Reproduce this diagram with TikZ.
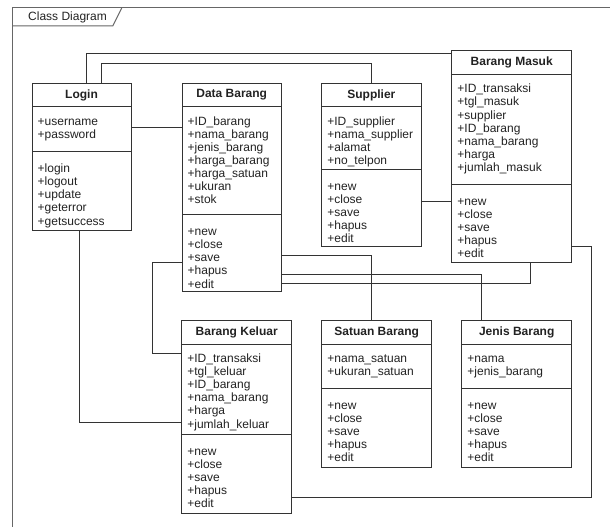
\documentclass[tikz,border=0pt]{standalone}
\usepackage{fontspec}
\setmainfont{Liberation Sans}
\usetikzlibrary{positioning}

\definecolor{linec}{HTML}{333333}
\definecolor{framec}{HTML}{666666}
\definecolor{textc}{HTML}{222222}

\tikzset{
  classhead/.style={draw=linec, line width=1pt, inner sep=0pt, outer sep=0pt,
    anchor=north west, minimum height=23.5pt, text=textc,
    font=\bfseries\fontsize{12}{14}\selectfont},
  compart/.style={draw=linec, line width=1pt, inner sep=0pt, outer sep=0pt},
  members/.style={align=left, inner sep=0pt, text=textc,
    font=\fontsize{12}{13.1}\selectfont},
  assoc/.style={draw=linec, line width=1pt},
}

\begin{document}
\begin{tikzpicture}[x=1pt, y=-1pt]
\clip (0,0) rectangle (610,527);

% frame
\draw[framec, line width=1pt] (12,540) -- (12,8) -- (620,8);
\draw[framec, line width=1pt] (12,26) -- (112.7,26) -- (121.7,8);
\node[anchor=base west, inner sep=0pt, text=textc, font=\fontsize{12}{14}\selectfont] (title) at (28,20.3) {Class Diagram};

% Login
\node[classhead, minimum width=99pt] (login) at (32,83.3) {Login};
\node[compart, minimum width=99pt, minimum height=45pt, below=0pt of login] (login-att) {};
\node[compart, minimum width=99pt, minimum height=78.2pt, below=0pt of login-att] (login-op) {};
\node[members, below right=9pt and 5.5pt of login-att.north west] (login-att-t) {\strut+username\\+password};
\node[members, below right=11.5pt and 5.5pt of login-op.north west] (login-op-t) {\strut+login\\+logout\\+update\\+geterror\\+getsuccess};

% Data Barang
\node[classhead, minimum width=99.5pt] (dbarang) at (182,83.3) {Data Barang};
\node[compart, minimum width=99.5pt, minimum height=108pt, below=0pt of dbarang] (dbarang-att) {};
\node[compart, minimum width=99.5pt, minimum height=76.7pt, below=0pt of dbarang-att] (dbarang-op) {};
\node[members, below right=9pt and 5.5pt of dbarang-att.north west] (dbarang-att-t) {\strut+ID\_barang\\+nama\_barang\\+jenis\_barang\\+harga\_barang\\+harga\_satuan\\+ukuran\\+stok};
\node[members, below right=11.5pt and 5.5pt of dbarang-op.north west] (dbarang-op-t) {\strut+new\\+close\\+save\\+hapus\\+edit};

% Supplier
\node[classhead, minimum width=99.3pt] (supplier) at (321.7,83.3) {Supplier};
\node[compart, minimum width=99.3pt, minimum height=62.6pt, below=0pt of supplier] (supplier-att) {};
\node[compart, minimum width=99.3pt, minimum height=77.4pt, below=0pt of supplier-att] (supplier-op) {};
\node[members, below right=9pt and 5.5pt of supplier-att.north west] (supplier-att-t) {\strut+ID\_supplier\\+nama\_supplier\\+alamat\\+no\_telpon};
\node[members, below right=11.5pt and 5.5pt of supplier-op.north west] (supplier-op-t) {\strut+new\\+close\\+save\\+hapus\\+edit};

% Barang Masuk
\node[classhead, minimum width=120pt] (bmasuk) at (451.7,51) {Barang Masuk};
\node[compart, minimum width=120pt, minimum height=109.7pt, below=0pt of bmasuk] (bmasuk-att) {};
\node[compart, minimum width=120pt, minimum height=78.3pt, below=0pt of bmasuk-att] (bmasuk-op) {};
\node[members, below right=9pt and 5.5pt of bmasuk-att.north west] (bmasuk-att-t) {\strut+ID\_transaksi\\+tgl\_masuk\\+supplier\\+ID\_barang\\+nama\_barang\\+harga\\+jumlah\_masuk};
\node[members, below right=11.5pt and 5.5pt of bmasuk-op.north west] (bmasuk-op-t) {\strut+new\\+close\\+save\\+hapus\\+edit};

% Barang Keluar
\node[classhead, minimum width=110pt] (bkeluar) at (181.7,320.7) {Barang Keluar};
\node[compart, minimum width=110pt, minimum height=90pt, below=0pt of bkeluar] (bkeluar-att) {};
\node[compart, minimum width=110pt, minimum height=79.7pt, below=0pt of bkeluar-att] (bkeluar-op) {};
\node[members, below right=9pt and 5.5pt of bkeluar-att.north west] (bkeluar-att-t) {\strut+ID\_transaksi\\+tgl\_keluar\\+ID\_barang\\+nama\_barang\\+harga\\+jumlah\_keluar};
\node[members, below right=11.5pt and 5.5pt of bkeluar-op.north west] (bkeluar-op-t) {\strut+new\\+close\\+save\\+hapus\\+edit};

% Satuan Barang
\node[classhead, minimum width=110pt] (satuan) at (321.7,320.7) {Satuan Barang};
\node[compart, minimum width=110pt, minimum height=44pt, below=0pt of satuan] (satuan-att) {};
\node[compart, minimum width=110pt, minimum height=79pt, below=0pt of satuan-att] (satuan-op) {};
\node[members, below right=9pt and 5.5pt of satuan-att.north west] (satuan-att-t) {\strut+nama\_satuan\\+ukuran\_satuan};
\node[members, below right=11.5pt and 5.5pt of satuan-op.north west] (satuan-op-t) {\strut+new\\+close\\+save\\+hapus\\+edit};

% Jenis Barang
\node[classhead, minimum width=110pt] (jenis) at (461.7,320.7) {Jenis Barang};
\node[compart, minimum width=110pt, minimum height=44pt, below=0pt of jenis] (jenis-att) {};
\node[compart, minimum width=110pt, minimum height=79pt, below=0pt of jenis-att] (jenis-op) {};
\node[members, below right=9pt and 5.5pt of jenis-att.north west] (jenis-att-t) {\strut+nama\\+jenis\_barang};
\node[members, below right=11.5pt and 5.5pt of jenis-op.north west] (jenis-op-t) {\strut+new\\+close\\+save\\+hapus\\+edit};

% associations
\coordinate (login-db) at ([yshift=1.5pt]login-att.east);
\coordinate (sup-bm) at ([yshift=7pt]supplier-op.east);
\draw[assoc] ([xshift=5pt]login.north) |- ([yshift=-3pt]bmasuk.north west);
\draw[assoc] ([xshift=20pt]login.north) -- ++(0,-20) -| (supplier.north);
\draw[assoc] (login-db) -- (login-db -| dbarang-att.west);
\draw[assoc] (sup-bm) -- (sup-bm -| bmasuk-op.west);
\draw[assoc] ([xshift=-2.5pt]login-op.south) |- ([yshift=12pt]bkeluar-att.south west);
\draw[assoc] ([yshift=-47.5pt]dbarang-op.north west) -- ++(-30,0) |- ([yshift=-9pt]bkeluar-att.north west);
\draw[assoc] ([yshift=-41pt]dbarang-op.north east) -| ([xshift=-5pt]satuan.north);
\draw[assoc] ([yshift=-59.5pt]dbarang-op.north east) -| ([xshift=-35pt]jenis.north);
\draw[assoc] ([yshift=-68.5pt]dbarang-op.north east) -| ([xshift=19pt]bmasuk-op.south);
\draw[assoc] ([yshift=15.6pt]bmasuk-op.south east) -- ++(20,0) |- ([yshift=16pt]bkeluar-op.south east);
\end{tikzpicture}
\end{document}
